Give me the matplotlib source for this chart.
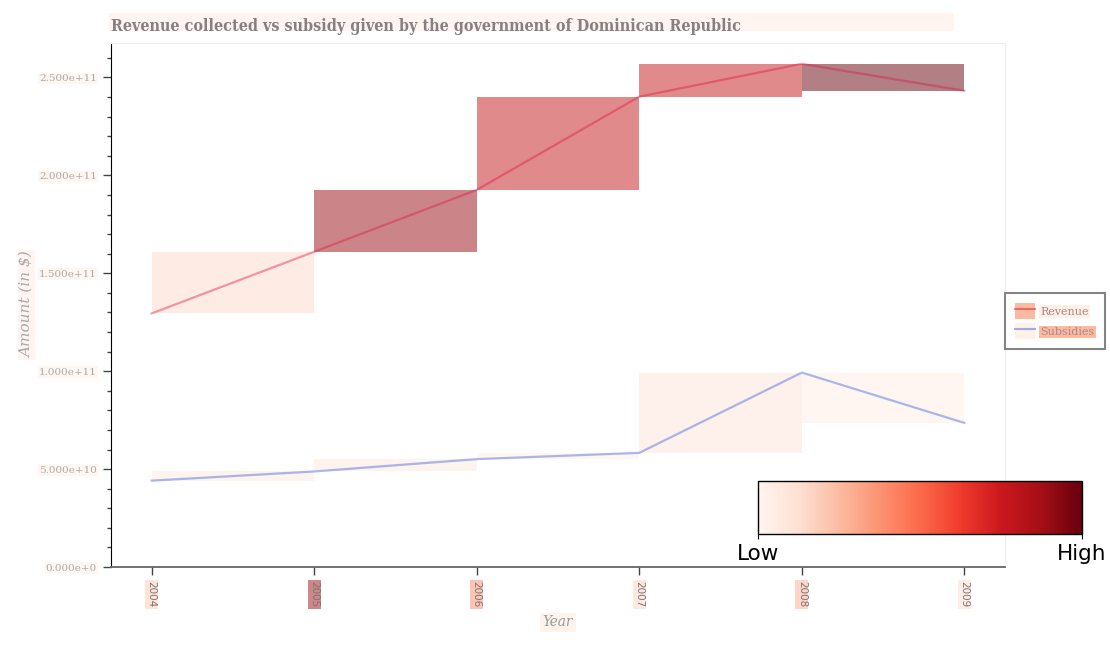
import numpy as np
import matplotlib
matplotlib.use("Agg")
import matplotlib.pyplot as plt
from matplotlib.patches import Rectangle, Patch
from matplotlib.lines import Line2D
from matplotlib.ticker import FuncFormatter, MultipleLocator
import matplotlib as mpl

# ---- data ----
years = [2004, 2005, 2006, 2007, 2008, 2009]
revenue = [1.295e11, 1.610e11, 1.926e11, 2.402e11, 2.570e11, 2.432e11]
subsidies = [0.441e11, 0.488e11, 0.551e11, 0.583e11, 0.993e11, 0.736e11]
revenue_shade = [0.15, 0.9, 0.78, 0.78, 1.0]
subsidy_shade = [0.08, 0.08, 0.05, 0.1, 0.04]
year_label_shade = [0.2, 0.88, 0.4, 0.17, 0.3, 0.14]
title = "Revenue collected vs subsidy given by the government of Dominican Republic"
series_names = ["Revenue", "Subsidies"]
cbar_labels = ["Low", "High"]

cmap = plt.get_cmap("Reds")

fig = plt.figure(figsize=(11.1, 6.45), dpi=100)
ax = fig.add_axes([0.1, 0.1209, 0.8054, 0.8124])

# shaded rectangles between consecutive points
for vals, shades in ((revenue, revenue_shade), (subsidies, subsidy_shade)):
    for i in range(len(years) - 1):
        lo, hi = sorted([vals[i], vals[i + 1]])
        ax.add_patch(Rectangle((years[i], lo), years[i + 1] - years[i], hi - lo,
                               facecolor=cmap(shades[i]), alpha=0.5, lw=0, zorder=1))

ax.plot(years, revenue, color="crimson", alpha=0.4, lw=1.6, zorder=3)
ax.plot(years, subsidies, color="royalblue", alpha=0.45, lw=1.6, zorder=3)

ax.set_xlim(2003.75, 2009.25)
ax.set_ylim(0, 2.676e11)

def yfmt(v, pos):
    if v == 0:
        return "0.000e+0"
    e = int(np.floor(np.log10(abs(v))))
    return f"{v / 10**e:.3f}e+{e}"

ax.yaxis.set_major_locator(MultipleLocator(5e10))
ax.yaxis.set_minor_locator(MultipleLocator(1e10))
ax.yaxis.set_major_formatter(FuncFormatter(yfmt))
ax.set_xticks(years)
ax.set_xticklabels([str(y) for y in years])

for lab in ax.get_yticklabels():
    lab.set_fontfamily("DejaVu Serif")
    lab.set_fontsize(7.5)
    lab.set_color("#aaaaaa")
    lab.set_bbox(dict(facecolor=cmap(0.05), alpha=0.5, edgecolor="none", pad=1))
for lab, s in zip(ax.get_xticklabels(), year_label_shade):
    lab.set_rotation(-90)
    lab.set_fontsize(7.5)
    lab.set_color("#777777")
    lab.set_bbox(dict(facecolor=cmap(s), alpha=0.5, edgecolor="none", pad=1))

ax.tick_params(axis="both", which="major", length=6, width=1, color="#444444", pad=4)
ax.tick_params(axis="y", which="minor", length=3, width=1, color="#444444")

for side in ("top", "right"):
    ax.spines[side].set_color("#eeeeee")
ax.spines["left"].set_color("black")
ax.spines["bottom"].set_color("#666666")
ax.spines["bottom"].set_linewidth(1.3)

ax.set_ylabel(r"Amount (in \$)", family="DejaVu Serif", style="italic", fontsize=11,
              color="#aaaaaa", labelpad=4,
              bbox=dict(facecolor=cmap(0.06), alpha=0.5, edgecolor="none", pad=1))
ax.set_xlabel("Year", family="DejaVu Serif", style="italic", fontsize=11,
              fontstretch="condensed", color="#999999", labelpad=6,
              bbox=dict(facecolor=cmap(0.08), alpha=0.5, edgecolor="none", pad=2))

# title with wide background band
fig.patches.append(Rectangle((109 / 1110, 1 - 31 / 645), (954 - 109) / 1110, 18 / 645,
                             transform=fig.transFigure, facecolor=cmap(0.06),
                             alpha=0.5, edgecolor="none", zorder=0))
fig.text(111 / 1110, 1 - 26.5 / 645, title, family="DejaVu Serif", weight="bold",
         fontstretch="condensed", fontsize=11.5, color="#888080", va="center", ha="left")

# legend
h_rev = (Patch(facecolor=cmap(0.25), alpha=1, edgecolor="none"),
         Line2D([], [], color="crimson", alpha=0.5, lw=1.5))
h_sub = (Patch(facecolor=cmap(0.03), alpha=1, edgecolor="none"),
         Line2D([], [], color="royalblue", alpha=0.5, lw=1.5))
leg = ax.legend([h_rev, h_sub], series_names, loc="center left",
                bbox_to_anchor=(1.0, 0.469), borderaxespad=0.0, frameon=True,
                fancybox=False, prop=dict(family="DejaVu Serif", size=8),
                handlelength=1.8, handleheight=1.8, handletextpad=0.5,
                borderpad=0.9, labelspacing=0.4)
leg.get_frame().set_edgecolor("#666666")
leg.get_frame().set_linewidth(1.5)
texts = leg.get_texts()
texts[0].set_bbox(dict(facecolor=cmap(0.1), alpha=0.6, edgecolor="none", pad=1))
texts[1].set_bbox(dict(facecolor=cmap(0.25), alpha=1, edgecolor="none", pad=1))
for t in texts:
    t.set_color("#aa8888")

# colorbar
cax = fig.add_axes([758 / 1110, 1 - 534 / 645, 324 / 1110, 53 / 645])
cb = fig.colorbar(mpl.cm.ScalarMappable(norm=mpl.colors.Normalize(0, 1), cmap=cmap),
                  cax=cax, orientation="horizontal")
cb.set_ticks([0, 1])
cb.set_ticklabels(cbar_labels)
cax.tick_params(labelsize=15.5)
cb.outline.set_linewidth(1)

fig.savefig("out.png", dpi=100)
